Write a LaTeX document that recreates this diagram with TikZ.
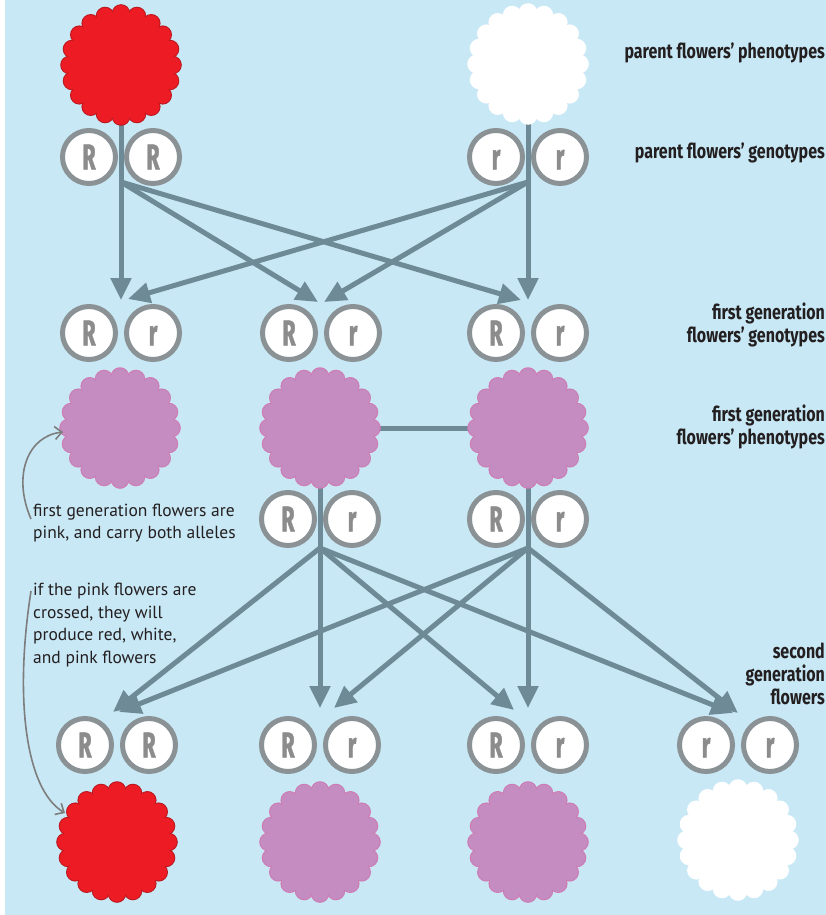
\documentclass[tikz,border=0pt]{standalone}
\usepackage{fontspec}
\setmainfont{PT Sans}
\newfontfamily\labfont[FakeStretch=0.78]{Fira Sans}
\newfontfamily\allfont[FakeStretch=0.6,FakeBold=1.2]{Fira Sans}
\usetikzlibrary{arrows.meta}
\definecolor{bg}{RGB}{200,232,245}
\definecolor{arrowc}{RGB}{110,138,150}
\definecolor{ringc}{RGB}{138,146,150}
\definecolor{letterc}{RGB}{140,140,140}
\definecolor{redf}{RGB}{237,28,36}
\definecolor{rededge}{RGB}{185,22,30}
\definecolor{pinkf}{RGB}{196,140,192}
\definecolor{pinkedge}{RGB}{206,122,178}
\definecolor{notec}{RGB}{125,125,125}
\definecolor{txt}{RGB}{35,31,32}
\pgfdeclarelayer{back}
\pgfdeclarelayer{conn}
\pgfsetlayers{back,conn,main}
\tikzset{
  allele/.style={circle, draw=ringc, line width=5pt, fill=white, minimum size=53pt, inner sep=0pt,
    text height=25pt, text depth=0pt, font=\allfont\bfseries\fontsize{36}{36}\selectfont, text=letterc},
  flowernode/.style={circle, minimum size=103pt, inner sep=0pt},
  flow/.style={draw=arrowc, line width=5pt, -{Triangle[length=22pt,width=20pt]}},
  link/.style={draw=arrowc, line width=5pt},
  rowlabel/.style={anchor=east, align=right, inner sep=0pt, text=txt, font=\labfont\bfseries\fontsize{20.5}{23}\selectfont},
  note/.style={anchor=west, align=left, inner sep=0pt, text=txt, font=\fontsize{17.5}{22.5}\selectfont},
  notearrow/.style={draw=notec, line width=1.6pt, -{Straight Barb[length=7pt,width=13pt]}}
}
\newcommand{\flowerdraw}[5]{%
  \begin{scope}[shift={(#2,#3)}]
    \foreach \a in {0,18,...,342} \fill[#5] (\a:51.5pt) circle (9.3pt);
    \foreach \a in {0,18,...,342} \fill[#4] (\a:51.5pt) circle (8.3pt);
  \end{scope}
  \node[flowernode, fill=#4] (#1) at (#2,#3) {};
}
\begin{document}
\begin{tikzpicture}[x=1pt,y=-1pt]
\begin{pgfonlayer}{back}
\fill[bg] (0,0) rectangle (826,915);
\fill[white] (0,0) rectangle (5,915);
\end{pgfonlayer}
\useasboundingbox (0,0) rectangle (826,915);

% flowers
\flowerdraw{f0a}{121}{65}{redf}{rededge}
\flowerdraw{f0b}{528}{64}{white}{white}
\flowerdraw{f1a}{120}{428}{pinkf}{pinkedge}
\flowerdraw{f1b}{320}{428}{pinkf}{pinkedge}
\flowerdraw{f1c}{528}{428}{pinkf}{pinkedge}
\flowerdraw{f2a}{117}{842}{redf}{rededge}
\flowerdraw{f2b}{320}{842}{pinkf}{pinkedge}
\flowerdraw{f2c}{528}{842}{pinkf}{pinkedge}
\flowerdraw{f2d}{738}{840}{white}{white}

% genotypes
\node[allele] (a0a) at (89,157) {R};
\node[allele] (a0b) at (153,157) {R};
\node[allele] (a0c) at (496,157) {r};
\node[allele] (a0d) at (560,157) {r};

\node[allele] (a1a) at (89,333) {R};
\node[allele] (a1b) at (153,333) {r};
\node[allele] (a1c) at (289,333) {R};
\node[allele] (a1d) at (353,333) {r};
\node[allele] (a1e) at (496,333) {R};
\node[allele] (a1f) at (560,333) {r};

\node[allele] (a2a) at (288,519) {R};
\node[allele] (a2b) at (352,519) {r};
\node[allele] (a2c) at (496,519) {R};
\node[allele] (a2d) at (560,519) {r};

\node[allele] (a3a) at (85,745) {R};
\node[allele] (a3b) at (149,745) {R};
\node[allele] (a3c) at (288,745) {R};
\node[allele] (a3d) at (352,745) {r};
\node[allele] (a3e) at (496,745) {R};
\node[allele] (a3f) at (560,745) {r};
\node[allele] (a3g) at (706,745) {r};
\node[allele] (a3h) at (770,745) {r};

% connector points
\coordinate (s0a) at (121,182);
\coordinate (s0b) at (528,182);
\coordinate (t1aa) at (121,300);
\coordinate (t1ab) at (128,299);
\coordinate (t1ba) at (318,302);
\coordinate (t1bb) at (324,302);
\coordinate (t1ca) at (521,300);
\coordinate (t1cb) at (528,300);
\coordinate (s2a) at (320,548);
\coordinate (s2b) at (528,548);
\coordinate (t3aa) at (113,712);
\coordinate (t3ab) at (119,712);
\coordinate (t3ba) at (320,708);
\coordinate (t3bb) at (334,708);
\coordinate (t3ca) at (514,710);
\coordinate (t3cb) at (528,708);
\coordinate (t3da) at (733,713);
\coordinate (t3db) at (738,713);

\begin{pgfonlayer}{conn}
\draw[flow] (f0a.south) -- (t1aa);
\draw[flow] (s0a) -- (t1ba);
\draw[flow] (s0a) -- (t1ca);
\draw[flow] (f0b.south) -- (t1cb);
\draw[flow] (s0b) -- (t1ab);
\draw[flow] (s0b) -- (t1bb);
\draw[link] (f1b.east) -- (f1c.west);
\draw[flow] (f1b.south) -- (t3ba);
\draw[flow] (s2a) -- (t3aa);
\draw[flow] (s2a) -- (t3ca);
\draw[flow] (s2a) -- (t3da);
\draw[flow] (f1c.south) -- (t3cb);
\draw[flow] (s2b) -- (t3ab);
\draw[flow] (s2b) -- (t3bb);
\draw[flow] (s2b) -- (t3db);
\end{pgfonlayer}

% row labels
\node[rowlabel] (l0) at (825,53) {parent flowers’ phenotypes};
\node[rowlabel] (l1) at (825,153) {parent flowers’ genotypes};
\node[rowlabel] (l2) at (825,325) {first generation\\flowers’ genotypes};
\node[rowlabel] (l3) at (825,427) {first generation\\flowers’ phenotypes};
\node[rowlabel] (l4) at (825,674) {second\\generation\\flowers};

% notes
\node[note] (n1) at (33,523) {first generation flowers are\\pink, and carry both alleles};
\node[note] (n2) at (33,625) {if the pink flowers are\\crossed, they will\\produce red, white,\\and pink flowers};
\coordinate (c1) at (31,519);
\coordinate (c1e) at (63,432);
\coordinate (c2) at (31,591);
\coordinate (c2e) at (65,813);
\draw[notearrow] (c1) .. controls (12,475) and (28,436) .. (c1e);
\draw[notearrow] (c2) .. controls (14,700) and (26,790) .. (c2e);
\end{tikzpicture}
\end{document}
